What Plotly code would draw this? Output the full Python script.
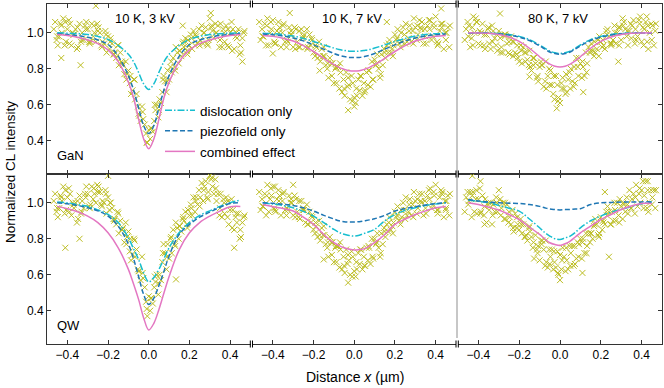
import plotly.graph_objects as go
from plotly.subplots import make_subplots

# scan positions (um), four interleaved passes shared by all panels
XA = [-0.46, -0.44, -0.42, -0.40, -0.38, -0.36, -0.34, -0.32, -0.30, -0.28, -0.26, -0.24, -0.22, -0.20, -0.18, -0.16,
      -0.14, -0.12, -0.10, -0.08, -0.06, -0.04, -0.02, 0.00, 0.02, 0.04, 0.06, 0.08, 0.10, 0.12, 0.14, 0.16, 0.18,
      0.20, 0.22, 0.24, 0.26, 0.28, 0.30, 0.32, 0.34, 0.36, 0.38, 0.40, 0.42, 0.44, 0.46]
XB = [-0.453, -0.433, -0.413, -0.393, -0.373, -0.353, -0.333, -0.313, -0.293, -0.273, -0.253, -0.233, -0.213, -0.193,
      -0.173, -0.153, -0.133, -0.113, -0.093, -0.073, -0.053, -0.033, -0.013, 0.007, 0.027, 0.047, 0.067, 0.087, 0.107,
      0.127, 0.147, 0.167, 0.187, 0.207, 0.227, 0.247, 0.267, 0.287, 0.307, 0.327, 0.347, 0.367, 0.387, 0.407, 0.427,
      0.447, 0.467]
XC = [-0.467, -0.447, -0.427, -0.407, -0.387, -0.367, -0.347, -0.327, -0.307, -0.287, -0.267, -0.247, -0.227, -0.207,
      -0.187, -0.167, -0.147, -0.127, -0.107, -0.087, -0.067, -0.047, -0.027, -0.007, 0.013, 0.033, 0.053, 0.073, 0.093,
      0.113, 0.133, 0.153, 0.173, 0.193, 0.213, 0.233, 0.253, 0.273, 0.293, 0.313, 0.333, 0.353, 0.373, 0.393, 0.413,
      0.433, 0.453]
XD = [-0.45, -0.43, -0.41, -0.39, -0.37, -0.35, -0.33, -0.31, -0.29, -0.27, -0.25, -0.23, -0.21, -0.19, -0.17, -0.15,
      -0.13, -0.11, -0.09, -0.07, -0.05, -0.03, -0.01, 0.01, 0.03, 0.05, 0.07, 0.09, 0.11, 0.13, 0.15, 0.17, 0.19,
      0.21, 0.23, 0.25, 0.27, 0.29, 0.31, 0.33, 0.35, 0.37, 0.39, 0.41, 0.43, 0.45, 0.47]

# model curves are sampled here
LX = [-0.45, -0.40, -0.35, -0.30, -0.25, -0.20, -0.15, -0.10, -0.075, -0.05, -0.025, 0.0, 0.025, 0.05, 0.075, 0.10,
      0.15, 0.20, 0.25, 0.30, 0.35, 0.40, 0.45]

# ---- GaN, 10 K, 3 kV
gan_3kv_a = [1.06, 0.98, 1.08, 1.02, 0.93, 1.02, 1.05, 0.96, 1.02, 1.05, 0.95, 1.00, 0.94, 0.98, 0.94, 0.86, 0.89, 0.77,
             0.79, 0.68, 0.66, 0.51, 0.49, 0.46, 0.45, 0.60, 0.61, 0.73, 0.74, 0.86, 0.89, 0.87, 0.97, 0.93, 1.01, 0.94,
             1.04, 1.03, 1.08, 0.97, 1.04, 0.92, 1.04, 1.00, 0.91, 1.02, 0.97]
gan_3kv_b = [0.96, 1.05, 0.93, 1.07, 1.00, 0.91, 0.95, 1.04, 0.95, 0.98, 1.05, 0.93, 1.01, 0.91, 0.88, 0.93, 0.84, 0.84,
             0.72, 0.74, 0.59, 0.59, 0.44, 0.41, 0.51, 0.53, 0.67, 0.67, 0.81, 0.81, 0.83, 0.94, 0.90, 0.99, 0.93, 1.02,
             0.94, 0.94, 1.03, 1.05, 0.92, 1.02, 0.93, 1.06, 0.98, 0.88, 1.00]
gan_3kv_c = [1.02, 0.93, 1.00, 0.95, 1.05, 0.99, 0.92, 1.00, 1.06, 0.95, 1.00, 1.03, 0.95, 0.89, 0.97, 0.89, 0.82, 0.82,
             0.77, 0.66, 0.63, 0.54, 0.52, 0.39, 0.47, 0.57, 0.63, 0.76, 0.79, 0.78, 0.92, 0.90, 0.92, 0.96, 0.91, 0.98,
             0.96, 1.00, 0.96, 1.01, 1.00, 1.05, 0.95, 0.92, 1.02, 0.97, 0.89]
gan_3kv_d = [0.98, 1.04, 1.06, 0.94, 0.99, 1.03, 0.96, 1.02, 0.94, 1.04, 1.01, 0.92, 0.99, 0.95, 0.88, 0.93, 0.83, 0.74,
             0.76, 0.74, 0.55, 0.56, 0.39, 0.47, 0.60, 0.57, 0.74, 0.73, 0.84, 0.79, 0.90, 0.95, 0.88, 0.97, 0.99, 0.93,
             1.00, 0.93, 1.04, 1.00, 0.96, 1.00, 1.02, 0.90, 1.00, 0.93, 1.01]
gan_3kv_out_x = [-0.43, -0.335, -0.26, 0.305, 0.46, 0.167]
gan_3kv_out_y = [0.86, 0.82, 1.15, 1.11, 0.84, 1.04]
gan_3kv_dis = [1.0, 0.998, 0.995, 0.99, 0.98, 0.963, 0.93, 0.88, 0.84, 0.78, 0.716, 0.685, 0.716, 0.78, 0.84, 0.88,
               0.93, 0.963, 0.98, 0.99, 0.995, 0.998, 1.0]
gan_3kv_piezo = [0.995, 0.99, 0.985, 0.975, 0.96, 0.935, 0.87, 0.762, 0.683, 0.583, 0.484, 0.44, 0.484, 0.583, 0.683,
                 0.762, 0.87, 0.935, 0.96, 0.975, 0.985, 0.99, 0.995]
gan_3kv_comb = [0.99, 0.985, 0.975, 0.96, 0.94, 0.905, 0.84, 0.725, 0.64, 0.52, 0.41, 0.355, 0.41, 0.52, 0.64, 0.725,
                0.84, 0.905, 0.94, 0.96, 0.975, 0.985, 0.99]

# ---- GaN, 10 K, 7 kV
gan_7kv_a = [0.96, 1.05, 0.93, 1.07, 1.01, 0.92, 0.95, 1.03, 0.92, 0.95, 1.02, 0.92, 0.99, 0.89, 0.86, 0.91, 0.82, 0.86,
             0.72, 0.81, 0.67, 0.78, 0.63, 0.64, 0.74, 0.65, 0.78, 0.70, 0.85, 0.80, 0.82, 0.93, 0.89, 0.99, 0.94, 1.03,
             0.95, 0.95, 1.03, 1.07, 0.94, 1.04, 0.96, 1.09, 1.01, 0.91, 1.03]
gan_7kv_b = [1.02, 0.93, 1.00, 0.95, 1.06, 1.00, 0.92, 0.99, 1.03, 0.92, 0.97, 1.02, 0.93, 0.87, 0.95, 0.87, 0.80, 0.83,
             0.80, 0.69, 0.74, 0.70, 0.76, 0.61, 0.68, 0.72, 0.71, 0.84, 0.82, 0.75, 0.91, 0.89, 0.91, 0.96, 0.92, 0.99,
             0.97, 1.01, 0.96, 1.03, 1.02, 1.07, 0.98, 0.95, 1.05, 1.00, 0.92]
gan_7kv_c = [1.06, 0.98, 1.08, 1.02, 0.94, 1.03, 1.05, 0.95, 0.99, 1.02, 0.92, 0.99, 0.92, 0.96, 0.92, 0.84, 0.87, 0.75,
             0.83, 0.72, 0.78, 0.65, 0.71, 0.72, 0.65, 0.76, 0.68, 0.79, 0.74, 0.88, 0.88, 0.86, 0.96, 0.93, 1.02, 0.95,
             1.05, 1.04, 1.08, 0.99, 1.06, 0.94, 1.07, 1.03, 0.94, 1.05, 1.00]
gan_7kv_d = [0.98, 1.04, 1.06, 0.94, 1.00, 1.04, 0.96, 1.01, 0.91, 1.01, 0.98, 0.91, 0.97, 0.93, 0.87, 0.92, 0.83, 0.76,
             0.81, 0.83, 0.69, 0.75, 0.62, 0.69, 0.76, 0.67, 0.79, 0.74, 0.83, 0.77, 0.89, 0.94, 0.87, 0.97, 1.00, 0.94,
             1.01, 0.94, 1.04, 1.02, 0.98, 1.02, 1.05, 0.93, 1.03, 0.96, 1.04]
gan_7kv_out_x = [-0.4, -0.17, -0.317, 0.427, -0.03, 0.0, 0.16]
gan_7kv_out_y = [0.885, 0.79, 1.11, 1.135, 0.57, 0.59, 1.06]
gan_7kv_dis = [0.998, 0.995, 0.99, 0.982, 0.969, 0.952, 0.933, 0.915, 0.907, 0.902, 0.898, 0.897, 0.898, 0.902, 0.907,
               0.915, 0.933, 0.952, 0.969, 0.982, 0.99, 0.995, 0.998]
gan_7kv_piezo = [0.993, 0.989, 0.982, 0.971, 0.955, 0.933, 0.909, 0.885, 0.875, 0.868, 0.863, 0.862, 0.863, 0.868, 0.875,
                 0.885, 0.909, 0.933, 0.955, 0.971, 0.982, 0.989, 0.993]
gan_7kv_comb = [0.985, 0.98, 0.97, 0.954, 0.929, 0.896, 0.858, 0.823, 0.808, 0.797, 0.789, 0.787, 0.789, 0.797, 0.808,
                0.823, 0.858, 0.896, 0.929, 0.954, 0.97, 0.98, 0.985]

# ---- GaN, 80 K, 7 kV
gan_80k_a = [1.02, 0.92, 1.00, 0.94, 1.05, 0.99, 0.91, 0.97, 1.01, 0.89, 0.94, 0.98, 0.89, 0.84, 0.92, 0.85, 0.79, 0.83,
             0.81, 0.70, 0.76, 0.71, 0.76, 0.61, 0.69, 0.74, 0.73, 0.86, 0.83, 0.76, 0.92, 0.90, 0.91, 0.95, 0.91, 0.98,
             0.96, 1.00, 0.96, 1.02, 1.01, 1.07, 0.98, 0.95, 1.06, 1.00, 0.93]
gan_80k_b = [1.06, 0.97, 1.08, 1.01, 0.93, 1.02, 1.04, 0.93, 0.97, 0.99, 0.89, 0.95, 0.88, 0.93, 0.89, 0.82, 0.86, 0.75,
             0.84, 0.73, 0.80, 0.66, 0.71, 0.72, 0.66, 0.78, 0.70, 0.81, 0.75, 0.89, 0.89, 0.87, 0.96, 0.92, 1.01, 0.94,
             1.04, 1.03, 1.08, 0.98, 1.05, 0.94, 1.07, 1.03, 0.95, 1.05, 1.01]
gan_80k_c = [0.96, 1.04, 0.93, 1.06, 1.00, 0.91, 0.94, 1.01, 0.90, 0.92, 0.99, 0.88, 0.95, 0.86, 0.83, 0.89, 0.81, 0.86,
             0.73, 0.82, 0.69, 0.79, 0.63, 0.64, 0.75, 0.67, 0.80, 0.72, 0.86, 0.81, 0.83, 0.94, 0.89, 0.98, 0.93, 1.02,
             0.94, 0.94, 1.03, 1.06, 0.93, 1.04, 0.96, 1.09, 1.02, 0.91, 1.04]
gan_80k_d = [0.98, 1.03, 1.06, 0.93, 0.99, 1.03, 0.95, 0.99, 0.89, 0.98, 0.95, 0.87, 0.93, 0.90, 0.84, 0.90, 0.82, 0.76,
             0.82, 0.84, 0.71, 0.76, 0.62, 0.69, 0.77, 0.69, 0.81, 0.76, 0.84, 0.78, 0.90, 0.95, 0.87, 0.96, 0.99, 0.93,
             1.00, 0.93, 1.04, 1.01, 0.97, 1.02, 1.05, 0.93, 1.04, 0.96, 1.05]
gan_80k_out_x = [-0.294, -0.425, 0.286, 0.114, -0.016, -0.15, 0.425]
gan_80k_out_y = [1.107, 1.09, 0.84, 0.67, 0.58, 0.756, 1.09]
gan_80k_dis = [1.0, 1.0, 0.999, 0.996, 0.99, 0.98, 0.962, 0.932, 0.915, 0.898, 0.889, 0.885, 0.889, 0.898, 0.915, 0.932,
               0.962, 0.98, 0.99, 0.996, 0.999, 1.0, 1.0]
gan_80k_piezo = [0.999, 0.999, 0.997, 0.994, 0.987, 0.976, 0.957, 0.927, 0.91, 0.893, 0.885, 0.881, 0.885, 0.893, 0.91,
                 0.927, 0.957, 0.976, 0.987, 0.994, 0.997, 0.999, 0.999]
gan_80k_comb = [1.0, 0.999, 0.997, 0.99, 0.977, 0.952, 0.914, 0.867, 0.844, 0.826, 0.814, 0.81, 0.814, 0.826, 0.844,
                0.867, 0.914, 0.952, 0.977, 0.99, 0.997, 0.999, 1.0]

# ---- QW, 10 K, 3 kV
qw_3kv_a = [1.05, 0.97, 1.09, 1.03, 0.93, 1.00, 1.04, 0.97, 1.05, 1.09, 1.00, 1.06, 1.00, 1.03, 0.97, 0.88, 0.90, 0.78,
            0.84, 0.71, 0.74, 0.57, 0.53, 0.48, 0.44, 0.60, 0.57, 0.72, 0.69, 0.85, 0.86, 0.84, 0.95, 0.93, 1.03, 0.99,
            1.11, 1.12, 1.15, 1.05, 1.05, 0.92, 1.03, 0.96, 0.85, 0.94, 0.89]
qw_3kv_b = [0.95, 1.04, 0.94, 1.08, 1.00, 0.89, 0.94, 1.05, 0.98, 1.02, 1.10, 0.99, 1.07, 0.96, 0.91, 0.95, 0.85, 0.89,
            0.73, 0.80, 0.63, 0.70, 0.45, 0.40, 0.53, 0.49, 0.67, 0.63, 0.80, 0.77, 0.80, 0.91, 0.88, 0.99, 0.95, 1.07,
            1.01, 1.03, 1.13, 1.13, 0.93, 1.02, 0.92, 1.02, 0.92, 0.80, 0.92]
qw_3kv_c = [1.01, 0.92, 1.01, 0.96, 1.05, 0.97, 0.91, 1.01, 1.09, 0.99, 1.05, 1.09, 1.01, 0.94, 1.00, 0.91, 0.83, 0.86,
            0.81, 0.68, 0.70, 0.62, 0.58, 0.37, 0.47, 0.56, 0.60, 0.77, 0.77, 0.72, 0.89, 0.87, 0.90, 0.96, 0.93, 1.03,
            1.03, 1.09, 1.06, 1.09, 1.01, 1.05, 0.94, 0.88, 0.96, 0.89, 0.81]
qw_3kv_d = [0.97, 1.03, 1.07, 0.95, 0.99, 1.01, 0.95, 1.03, 0.97, 1.08, 1.06, 0.98, 1.05, 1.00, 0.90, 0.94, 0.85, 0.77,
            0.80, 0.79, 0.62, 0.61, 0.41, 0.47, 0.59, 0.55, 0.72, 0.70, 0.81, 0.76, 0.87, 0.92, 0.86, 0.97, 1.01, 0.98,
            1.07, 1.02, 1.14, 1.08, 0.97, 1.00, 1.01, 0.86, 0.94, 0.85, 0.93]
qw_3kv_out_x = [-0.41, -0.34, -0.2, 0.42, 0.3, 0.134]
qw_3kv_out_y = [0.75, 0.80, 1.15, 0.75, 1.15, 0.574]
qw_3kv_dis = [1.005, 1.0, 0.99, 0.98, 0.96, 0.935, 0.89, 0.805, 0.745, 0.685, 0.61, 0.56, 0.585, 0.63, 0.69, 0.75,
              0.835, 0.89, 0.93, 0.955, 0.98, 1.0, 1.015]
qw_3kv_piezo = [1.0, 0.995, 0.985, 0.972, 0.955, 0.926, 0.87, 0.77, 0.69, 0.59, 0.49, 0.435, 0.47, 0.54, 0.62, 0.705,
                0.825, 0.88, 0.92, 0.948, 0.975, 0.996, 1.0]
qw_3kv_comb = [0.98, 0.967, 0.95, 0.926, 0.89, 0.833, 0.75, 0.63, 0.55, 0.463, 0.36, 0.293, 0.33, 0.407, 0.5, 0.59,
               0.74, 0.833, 0.89, 0.926, 0.954, 0.978, 0.98]

# ---- QW, 10 K, 7 kV
qw_7kv_a = [0.96, 1.05, 0.95, 1.09, 1.02, 0.93, 0.96, 1.04, 0.93, 0.95, 1.01, 0.89, 0.95, 0.85, 0.81, 0.86, 0.77, 0.81,
            0.67, 0.76, 0.63, 0.74, 0.60, 0.62, 0.72, 0.63, 0.75, 0.66, 0.80, 0.75, 0.77, 0.88, 0.85, 0.95, 0.90, 1.00,
            0.93, 0.93, 1.01, 1.05, 0.93, 1.04, 0.97, 1.10, 1.03, 0.92, 1.04]
qw_7kv_b = [1.02, 0.93, 1.02, 0.97, 1.07, 1.01, 0.93, 1.00, 1.04, 0.92, 0.96, 0.99, 0.89, 0.83, 0.90, 0.82, 0.75, 0.78,
            0.75, 0.64, 0.70, 0.66, 0.73, 0.59, 0.66, 0.70, 0.68, 0.80, 0.77, 0.70, 0.86, 0.84, 0.87, 0.92, 0.88, 0.96,
            0.95, 0.99, 0.94, 1.01, 1.01, 1.07, 0.99, 0.96, 1.07, 1.01, 0.93]
qw_7kv_c = [1.06, 0.98, 1.10, 1.04, 0.95, 1.04, 1.06, 0.96, 1.00, 1.02, 0.91, 0.96, 0.88, 0.92, 0.87, 0.79, 0.82, 0.70,
            0.78, 0.67, 0.74, 0.61, 0.68, 0.70, 0.63, 0.74, 0.65, 0.75, 0.69, 0.83, 0.83, 0.81, 0.92, 0.89, 0.98, 0.92,
            1.03, 1.02, 1.06, 0.97, 1.05, 0.94, 1.08, 1.04, 0.96, 1.06, 1.01]
qw_7kv_d = [0.98, 1.04, 1.08, 0.96, 1.01, 1.05, 0.97, 1.02, 0.92, 1.01, 0.97, 0.88, 0.93, 0.89, 0.82, 0.87, 0.78, 0.71,
            0.76, 0.78, 0.65, 0.71, 0.59, 0.67, 0.74, 0.65, 0.76, 0.70, 0.78, 0.72, 0.84, 0.89, 0.83, 0.93, 0.96, 0.91,
            0.99, 0.92, 1.02, 1.00, 0.97, 1.02, 1.06, 0.94, 1.05, 0.97, 1.05]
qw_7kv_out_x = [-0.39, -0.3, -0.03, -0.15, 0.45]
qw_7kv_out_y = [1.09, 1.10, 0.556, 0.685, 0.96]
qw_7kv_dis = [1.0, 0.993, 0.985, 0.972, 0.952, 0.926, 0.89, 0.852, 0.835, 0.825, 0.818, 0.815, 0.82, 0.83, 0.84, 0.852,
              0.9, 0.935, 0.958, 0.972, 0.985, 0.993, 1.0]
qw_7kv_piezo = [1.0, 0.997, 0.992, 0.985, 0.972, 0.954, 0.93, 0.91, 0.9, 0.895, 0.893, 0.893, 0.895, 0.9, 0.905, 0.911,
                0.93, 0.954, 0.968, 0.978, 0.988, 0.995, 1.0]
qw_7kv_comb = [0.99, 0.978, 0.968, 0.954, 0.92, 0.88, 0.824, 0.778, 0.762, 0.75, 0.742, 0.737, 0.74, 0.745, 0.76, 0.778,
               0.824, 0.88, 0.91, 0.935, 0.955, 0.972, 0.98]

# ---- QW, 80 K, 7 kV
qw_80k_a = [1.03, 1.06, 0.95, 1.02, 1.04, 0.89, 1.00, 0.95, 1.07, 1.00, 0.99, 0.88, 0.94, 0.85, 0.88, 0.79, 0.81, 0.82,
            0.68, 0.74, 0.64, 0.74, 0.64, 0.71, 0.70, 0.63, 0.76, 0.69, 0.80, 0.72, 0.83, 0.80, 0.88, 0.92, 0.88, 0.95,
            0.90, 1.00, 0.98, 0.95, 1.07, 1.05, 0.98, 1.07, 1.12, 1.00, 1.07]
qw_80k_b = [1.06, 0.92, 1.02, 1.08, 0.93, 0.99, 0.88, 1.03, 1.02, 0.91, 0.89, 0.96, 0.86, 0.91, 0.81, 0.86, 0.75, 0.74,
            0.79, 0.65, 0.74, 0.63, 0.73, 0.63, 0.62, 0.76, 0.65, 0.78, 0.69, 0.83, 0.78, 0.87, 0.82, 0.85, 0.95, 0.88,
            1.00, 0.93, 0.91, 1.03, 0.97, 0.94, 1.05, 1.12, 0.97, 1.07, 0.97]
qw_80k_c = [0.95, 1.01, 1.06, 0.94, 0.95, 1.02, 0.96, 0.99, 0.95, 0.97, 0.91, 0.92, 0.84, 0.88, 0.83, 0.82, 0.84, 0.69,
            0.76, 0.79, 0.67, 0.70, 0.67, 0.60, 0.75, 0.68, 0.72, 0.66, 0.77, 0.80, 0.76, 0.83, 0.91, 0.83, 0.89, 0.98,
            0.95, 0.90, 1.02, 0.99, 0.94, 1.02, 1.10, 1.00, 1.04, 0.95, 1.03]
qw_80k_d = [0.99, 1.04, 1.07, 0.94, 0.98, 1.00, 0.93, 1.00, 0.93, 1.00, 0.95, 0.86, 0.92, 0.88, 0.81, 0.87, 0.78, 0.72,
            0.77, 0.79, 0.66, 0.73, 0.61, 0.68, 0.75, 0.65, 0.76, 0.70, 0.78, 0.72, 0.83, 0.88, 0.81, 0.90, 0.93, 0.88,
            0.96, 0.89, 1.00, 0.99, 0.97, 1.03, 1.08, 0.97, 1.07, 0.99, 1.07]
qw_80k_out_x = [-0.43, -0.39, -0.37, 0.11, 0.24, 0.43, 0.0, 0.22]
qw_80k_out_y = [1.15, 1.12, 0.88, 0.61, 0.70, 1.12, 0.57, 1.06]
qw_80k_dis = [1.015, 1.008, 1.0, 0.985, 0.97, 0.954, 0.91, 0.861, 0.835, 0.815, 0.8, 0.796, 0.805, 0.815, 0.835, 0.861,
              0.9, 0.926, 0.948, 0.963, 0.98, 0.995, 1.004]
qw_80k_piezo = [1.018, 1.01, 1.004, 1.0, 0.998, 0.996, 0.99, 0.98, 0.972, 0.965, 0.962, 0.96, 0.962, 0.963, 0.966, 0.967,
                0.99, 1.0, 1.002, 1.004, 1.004, 1.005, 1.005]
qw_80k_comb = [1.0, 0.99, 0.975, 0.96, 0.935, 0.907, 0.865, 0.824, 0.8, 0.778, 0.768, 0.763, 0.772, 0.787, 0.81, 0.833,
               0.87, 0.907, 0.935, 0.963, 0.982, 0.996, 0.996]

panel_titles = ["10 K, 3 kV", "10 K, 7 kV", "80 K, 7 kV"]
row_labels = ["GaN", "QW"]
legend_names = ["dislocation only", "piezofield only", "combined effect"]

panels = [
    (1, 1, [gan_3kv_a, gan_3kv_b, gan_3kv_c, gan_3kv_d], gan_3kv_out_x, gan_3kv_out_y,
     gan_3kv_dis, gan_3kv_piezo, gan_3kv_comb),
    (1, 2, [gan_7kv_a, gan_7kv_b, gan_7kv_c, gan_7kv_d], gan_7kv_out_x, gan_7kv_out_y,
     gan_7kv_dis, gan_7kv_piezo, gan_7kv_comb),
    (1, 3, [gan_80k_a, gan_80k_b, gan_80k_c, gan_80k_d], gan_80k_out_x, gan_80k_out_y,
     gan_80k_dis, gan_80k_piezo, gan_80k_comb),
    (2, 1, [qw_3kv_a, qw_3kv_b, qw_3kv_c, qw_3kv_d], qw_3kv_out_x, qw_3kv_out_y,
     qw_3kv_dis, qw_3kv_piezo, qw_3kv_comb),
    (2, 2, [qw_7kv_a, qw_7kv_b, qw_7kv_c, qw_7kv_d], qw_7kv_out_x, qw_7kv_out_y,
     qw_7kv_dis, qw_7kv_piezo, qw_7kv_comb),
    (2, 3, [qw_80k_a, qw_80k_b, qw_80k_c, qw_80k_d], qw_80k_out_x, qw_80k_out_y,
     qw_80k_dis, qw_80k_piezo, qw_80k_comb),
]

OLIVE = "#bcbd22"
line_styles = [("#17becf", "7px,2px,1.5px,2px"), ("#1f77b4", "5px,2.5px"), ("#e377c2", "solid")]
FONT = "Liberation Sans, Arial, sans-serif"

fig = make_subplots(rows=2, cols=3)

for row, col, passes, ox, oy, dis, piezo, comb in panels:
    xs = XA + XB + XC + XD + ox
    ys = passes[0] + passes[1] + passes[2] + passes[3] + oy
    fig.add_trace(go.Scatter(
        x=xs, y=ys, mode="markers",
        marker=dict(symbol="x-thin", size=6, color=OLIVE, line=dict(color=OLIVE, width=1)),
        showlegend=False, hoverinfo="skip"), row=row, col=col)
    for name, yl, (color, dash) in zip(legend_names, [dis, piezo, comb], line_styles):
        fig.add_trace(go.Scatter(
            x=LX, y=yl, mode="lines", name=name, line_shape="spline",
            line=dict(color=color, width=1.5, dash=dash),
            showlegend=(row == 1 and col == 1)), row=row, col=col)

# panel geometry in pixels: plot area spans x 47..662, y 4..344
L, R, T, B = 47, 662, 4, 344
W, H = R - L, B - T
def px(x):
    return (x - L) / W
def py(y):
    return (B - y) / H

col_dom = [[0, px(250.5)], [px(252.5), px(456)], [px(458), 1]]
row_dom = [[0.5, 1], [0, 0.5]]
AX = "#333333"

for row in (1, 2):
    for col in (1, 2, 3):
        fig.update_xaxes(row=row, col=col, domain=col_dom[col - 1], range=[-0.5, 0.5],
                         tickvals=[-0.4, -0.2, 0, 0.2, 0.4], ticktext=["−0.4", "−0.2", "0.0", "0.2", "0.4"],
                         ticks="inside", ticklen=4, tickcolor=AX, showline=True, linecolor=AX, linewidth=1,
                         mirror="ticks", showgrid=False, zeroline=False, showticklabels=(row == 2),
                         tickfont=dict(size=12, color="black"))
        yopts = dict(domain=row_dom[row - 1], range=[0.215, 1.16], tickvals=[0.4, 0.6, 0.8, 1.0],
                     ticktext=["0.4", "0.6", "0.8", "1.0"], showgrid=False, zeroline=False,
                     tickfont=dict(size=12, color="black"))
        if col == 1:
            yopts.update(ticks="inside", ticklen=4, tickcolor=AX, showline=True, linecolor=AX, linewidth=1)
        elif col == 2:
            yopts.update(ticks="", showline=False, showticklabels=False)
        else:
            yopts.update(side="right", ticks="inside", ticklen=4, tickcolor=AX, showline=True, linecolor=AX,
                         linewidth=1, showticklabels=False)
        fig.update_yaxes(row=row, col=col, **yopts)

shapes = [dict(type="line", xref="paper", yref="paper", x0=px(457), x1=px(457), y0=py(338), y1=py(0),
               line=dict(color="#b4b4b4", width=1.5))]
for xb in (250.3, 252.5, 456, 458.3):
    for yb in (T, T + H / 2, B):
        shapes.append(dict(type="line", xref="paper", yref="paper", x0=px(xb), x1=px(xb),
                           y0=py(yb + 3.5), y1=py(yb - 3.5), line=dict(color="black", width=1)))

annotations = []
for title, xc in zip(panel_titles, [145, 351.7, 557.7]):
    annotations.append(dict(text=title, x=px(xc), y=py(18.5), xref="paper", yref="paper", showarrow=False,
                            xanchor="center", yanchor="middle", font=dict(size=13)))
for label, yc in zip(row_labels, [155, 325]):
    annotations.append(dict(text=label, x=px(55), y=py(yc), xref="paper", yref="paper", xanchor="left",
                            yanchor="middle", showarrow=False, font=dict(size=13)))
annotations.append(dict(text="Normalized CL intensity", x=px(10), y=py(172), xref="paper", yref="paper",
                        xanchor="center", yanchor="middle", textangle=-90, showarrow=False, font=dict(size=13.5)))
annotations.append(dict(text="Distance <i>x</i> (µm)", x=px(354.5), y=py(377), xref="paper", yref="paper",
                        xanchor="center", yanchor="middle", showarrow=False, font=dict(size=14)))

fig.update_layout(
    width=664, height=388, margin=dict(l=L, r=664 - R, t=T, b=388 - B),
    paper_bgcolor="white", plot_bgcolor="white",
    font=dict(family=FONT, size=13, color="black"),
    shapes=shapes, annotations=annotations,
    legend=dict(x=px(160), y=py(95), xanchor="left", yanchor="top", bgcolor="rgba(0,0,0,0)",
                font=dict(size=13.5), itemwidth=30, tracegroupgap=0),
)

# the page's default body margin would push the 664x388 figure off the window
fig.write_html("out.html", config={"displayModeBar": False},
               post_script="document.body.style.margin = '0';")
